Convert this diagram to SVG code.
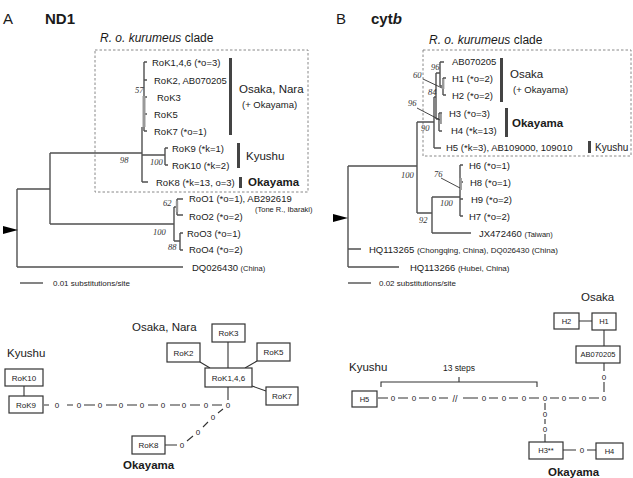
<svg xmlns="http://www.w3.org/2000/svg" width="633" height="478" viewBox="0 0 633 478">
<style>
text{font-family:"Liberation Sans",Arial,sans-serif;fill:#1a1a1a}
.t{font-size:9.5px}
.sm{font-size:7.5px}
.s8{font-size:8px}
.g{font-size:11.5px}
.b{font-weight:bold}
.sup{font-family:"Liberation Serif","Times New Roman",serif;font-style:italic;font-size:8.5px;fill:#333}
.br{stroke:#505050;stroke-width:1.4;fill:none}
.gr{fill:#999}
.bar{fill:#444}
.clade{fill:none;stroke:#888;stroke-width:1;stroke-dasharray:2.5,2}
.box{fill:#fff;stroke:#333;stroke-width:1.2}
.bx{font-size:8px;text-anchor:middle}
.bx2{font-size:7.5px;text-anchor:middle}
.z{font-size:8px;text-anchor:middle}
.cn{stroke:#333;stroke-width:1.1;fill:none}
.lead{stroke:#333;stroke-width:0.9;fill:none}
</style>

<!-- ========== Panel A: ND1 tree ========== -->
<g id="panelA-title">
<text x="3" y="24" style="font-size:15px">A</text>
<text x="45" y="24" class="b" style="font-size:15px">ND1</text>
<text x="100" y="42" style="font-size:12px"><tspan font-style="italic">R. o. kurumeus</tspan> clade</text>
<rect class="clade" x="95" y="50" width="213" height="142"/>
</g>

<g id="treeA-connectors">
<path class="br" d="M17,189V267M17,189H50M17,267H183M50,153V224M50,153H142M50,224H174
M174,207V241M174,207H177M177,199V215M177,199H183M177,215H183M174,241H180M180,233V250M180,233H183M180,250H183
M142,127V182M142,182H148M142,155H165M165,148V165M165,148H168M165,165H168
M144,62V131M144,62H147M144,80H147M144,97H147M144,114H147M144,131H147"/>
<rect class="gr" x="142.5" y="96" width="3" height="31"/>
<rect class="gr" x="175.8" y="201" width="2.4" height="11"/>
<polygon points="3,226 18,230 3,234" fill="#000"/>
<path class="br" d="M20,283H43"/>
</g>

<g id="treeA-tips">
<text class="t" x="152" y="65.5">RoK1,4,6 (*o=3)</text>
<text class="t" x="154" y="83.5">RoK2, AB070205</text>
<text class="t" x="157" y="100.5">RoK3</text>
<text class="t" x="154" y="117.5">RoK5</text>
<text class="t" x="154" y="134.5">RoK7 (*o=1)</text>
<text class="t" x="172" y="151.5">RoK9 (*k=1)</text>
<text class="t" x="172" y="168.5">RoK10 (*k=2)</text>
<text class="t" x="156" y="185.5">RoK8 (*k=13, o=3)</text>
<text class="t" x="189" y="202">RoO1 (*o=1), AB292619</text>
<text class="sm" x="255" y="211.5">(Tone R., Ibaraki)</text>
<text class="t" x="189" y="219.5">RoO2 (*o=2)</text>
<text class="t" x="187" y="236.5">RoO3 (*o=1)</text>
<text class="t" x="189" y="252.5">RoO4 (*o=2)</text>
<text class="t" x="192" y="270.5">DQ026430 <tspan class="sm">(China)</tspan></text>
<text class="s8" x="53" y="286">0.01 substitutions/site</text>
</g>

<g id="treeA-support">
<text class="sup" x="135" y="93">57</text>
<text class="sup" x="120" y="163">98</text>
<text class="sup" x="150" y="165">100</text>
<text class="sup" x="163" y="206">62</text>
<text class="sup" x="153" y="235">100</text>
<text class="sup" x="168" y="250">88</text>
</g>

<g id="treeA-groups">
<rect class="bar" x="229" y="58" width="3" height="77"/>
<text class="g" x="239" y="93">Osaka, Nara</text>
<text class="t" x="242" y="107.5">(+ Okayama)</text>
<rect class="bar" x="237" y="143" width="3" height="25"/>
<text class="g" x="246" y="160">Kyushu</text>
<rect class="bar" x="239" y="177" width="3" height="11"/>
<text class="g b" x="248" y="186">Okayama</text>
</g>

<!-- ========== Panel B: cytb tree ========== -->
<g id="panelB-title">
<text x="336" y="24" style="font-size:15px">B</text>
<text x="371" y="24" class="b" style="font-size:15px">cyt<tspan font-style="italic">b</tspan></text>
<text x="429" y="44" style="font-size:12px"><tspan font-style="italic">R. o. kurumeus</tspan> clade</text>
<rect class="clade" x="423" y="50" width="208" height="106"/>
</g>

<g id="treeB-connectors">
<path class="br" d="M348,166V267M348,166H417M348,249H361M348,267H399
M417,122V213M417,122H434M417,213H432M432,197V233M432,197H460M432,233H471
M460,165V216M460,165H463M460,182H463M460,199H463M460,216H463
M434,97V148M434,148H441M434,97H436M436,73V119M436,73H440M440,62V86M440,62H444M440,86H443
M443,78V95M443,78H446M443,95H446M436,119H439M439,113V131M439,113H442M439,131H442"/>
<rect class="gr" x="442" y="79" width="2.4" height="10"/>
<rect class="gr" x="439.5" y="114" width="2.4" height="10"/>
<rect class="gr" x="459.5" y="178" width="2.4" height="12"/>
<path class="lead" d="M423,79L442,88M417,108L440,120M441,178L460,188"/>
<polygon points="333,214 348,218 333,222" fill="#000"/>
<path class="br" d="M348,283H371"/>
</g>

<g id="treeB-tips">
<text class="t" x="452" y="65">AB070205</text>
<text class="t" x="452" y="82">H1 (*o=2)</text>
<text class="t" x="452" y="99.3">H2 (*o=2)</text>
<text class="t" x="449" y="116.5">H3 (*o=3)</text>
<text class="t" x="451" y="134">H4 (*k=13)</text>
<text class="t" x="446" y="150.5">H5 (*k=3), AB109000, 109010</text>
<text class="t" x="469" y="168.5">H6 (*o=1)</text>
<text class="t" x="470" y="185.5">H8 (*o=1)</text>
<text class="t" x="471" y="202.5">H9 (*o=2)</text>
<text class="t" x="469" y="219.5">H7 (*o=2)</text>
<text class="t" x="479" y="236.5">JX472460 <tspan class="sm">(Taiwan)</tspan></text>
<text class="t" x="369" y="252.5">HQ113265 <tspan class="s8">(Chongqing, China), DQ026430 (China)</tspan></text>
<text class="t" x="410" y="270.5">HQ113266 <tspan class="s8">(Hubei, China)</tspan></text>
<text class="s8" x="379" y="286">0.02 substitutions/site</text>
</g>

<g id="treeB-support">
<text class="sup" x="431" y="70">96</text>
<text class="sup" x="413" y="78">60</text>
<text class="sup" x="428" y="95">84</text>
<text class="sup" x="408" y="106">96</text>
<text class="sup" x="421" y="131">90</text>
<text class="sup" x="401" y="178">100</text>
<text class="sup" x="434" y="177">76</text>
<text class="sup" x="440" y="206">100</text>
<text class="sup" x="419" y="223">92</text>
</g>

<g id="treeB-groups">
<rect class="bar" x="500" y="58" width="3" height="44"/>
<text class="g" x="510" y="78">Osaka</text>
<text class="t" x="513" y="92.5">(+ Okayama)</text>
<rect class="bar" x="505" y="108" width="3" height="29"/>
<text class="g b" x="512" y="127">Okayama</text>
<rect class="bar" x="588" y="141" width="3" height="12"/>
<text x="595" y="151" style="font-size:10px">Kyushu</text>
</g>

<!-- ========== Network A ========== -->
<g id="netA-labels">
<text class="g" x="7" y="357">Kyushu</text>
<text class="g" x="132" y="331">Osaka, Nara</text>
<text class="g b" x="123" y="469">Okayama</text>
</g>

<g id="netA-connectors">
<path class="cn" d="M24,386V396M228,400V387M200,362L210,368M228,342V368M257,361L245,368M252,386L266,391
M44,405H49M67,405H73M84,405H95M106,405H117M127,405H137M148,405H158M170,405H180M190,405H200M212,405H222
M223,409L218,413M208,422L203,427M193,436L187,441M165,445H177"/>
</g>
<g id="netA-median">
<text class="z" x="57" y="408">0</text>
<text class="z" x="79" y="408">0</text>
<text class="z" x="100" y="408">0</text>
<text class="z" x="121" y="408">0</text>
<text class="z" x="142" y="408">0</text>
<text class="z" x="163" y="408">0</text>
<text class="z" x="184" y="408">0</text>
<text class="z" x="206" y="408">0</text>
<text class="z" x="228" y="408">0</text>
<text class="z" x="213" y="420">0</text>
<text class="z" x="198" y="435">0</text>
<text class="z" x="182" y="448">0</text>
</g>

<g id="RoK10"><rect class="box" x="5" y="369" width="38" height="17"/><text class="bx" x="24" y="380.5">RoK10</text></g>
<g id="RoK9"><rect class="box" x="9" y="396" width="34" height="17"/><text class="bx" x="26" y="407.5">RoK9</text></g>
<g id="RoK1-4-6"><rect class="box" x="205" y="368" width="47" height="19"/><text class="bx" x="228.5" y="380.5">RoK1,4,6</text></g>
<g id="RoK2"><rect class="box" x="167" y="343" width="33" height="19"/><text class="bx" x="183.5" y="355.5">RoK2</text></g>
<g id="RoK3"><rect class="box" x="212" y="324" width="33" height="18"/><text class="bx" x="228.5" y="336">RoK3</text></g>
<g id="RoK5"><rect class="box" x="257" y="343" width="33" height="18"/><text class="bx" x="273.5" y="355">RoK5</text></g>
<g id="RoK7"><rect class="box" x="266" y="387" width="32" height="18"/><text class="bx" x="282" y="399">RoK7</text></g>
<g id="RoK8"><rect class="box" x="132" y="436" width="33" height="18"/><text class="bx" x="148.5" y="448">RoK8</text></g>

<!-- ========== Network B ========== -->
<g id="netB-labels">
<text class="g" x="581" y="301">Osaka</text>
<text class="g" x="349" y="371">Kyushu</text>
<text x="459" y="371" style="font-size:8.5px;text-anchor:middle">13 steps</text>
<text class="g b" x="548" y="476">Okayama</text>
</g>

<g id="netB-connectors">
<path class="cn" d="M579,321H592M604,330V346M604,363V371M604,382V392
M378,398H388M398,398H408M419,398H429M439,398H448M463,398H478M489,398H498M509,398H518M529,398H539M550,398H559M569,398H579M589,398H599
M545,403V410M545,419V424M545,434V442M563,450H576M587,450H596"/>
<path class="cn" d="M381,387V382H537V387M459,382V377"/>
</g>
<g id="netB-median">
<text class="z" x="604" y="380">0</text>
<text class="z" x="393" y="401">0</text>
<text class="z" x="414" y="401">0</text>
<text class="z" x="434" y="401">0</text>
<text x="455" y="401.5" style="font-size:9px;text-anchor:middle">//</text>
<text class="z" x="484" y="401">0</text>
<text class="z" x="504" y="401">0</text>
<text class="z" x="524" y="401">0</text>
<text class="z" x="545" y="401">0</text>
<text class="z" x="564" y="401">0</text>
<text class="z" x="584" y="401">0</text>
<text class="z" x="604" y="401">0</text>
<text class="z" x="545" y="417">0</text>
<text class="z" x="545" y="432">0</text>
<text class="z" x="582" y="453">0</text>
</g>

<g id="H2"><rect class="box" x="554" y="313" width="25" height="16"/><text class="bx2" x="566.5" y="323.7">H2</text></g>
<g id="H1"><rect class="box" x="592" y="313" width="24" height="17"/><text class="bx2" x="604" y="324.2">H1</text></g>
<g id="AB070205"><rect class="box" x="576" y="346" width="44" height="17"/><text class="bx2" x="598" y="357.2">AB070205</text></g>
<g id="H5"><rect class="box" x="352" y="391" width="25" height="16"/><text class="bx2" x="364.5" y="401.7">H5</text></g>
<g id="H3"><rect class="box" x="529" y="442" width="34" height="17"/><text class="bx2" x="546" y="453.2">H3**</text></g>
<g id="H4"><rect class="box" x="596" y="443" width="27" height="16"/><text class="bx2" x="609.5" y="453.7">H4</text></g>
</svg>
